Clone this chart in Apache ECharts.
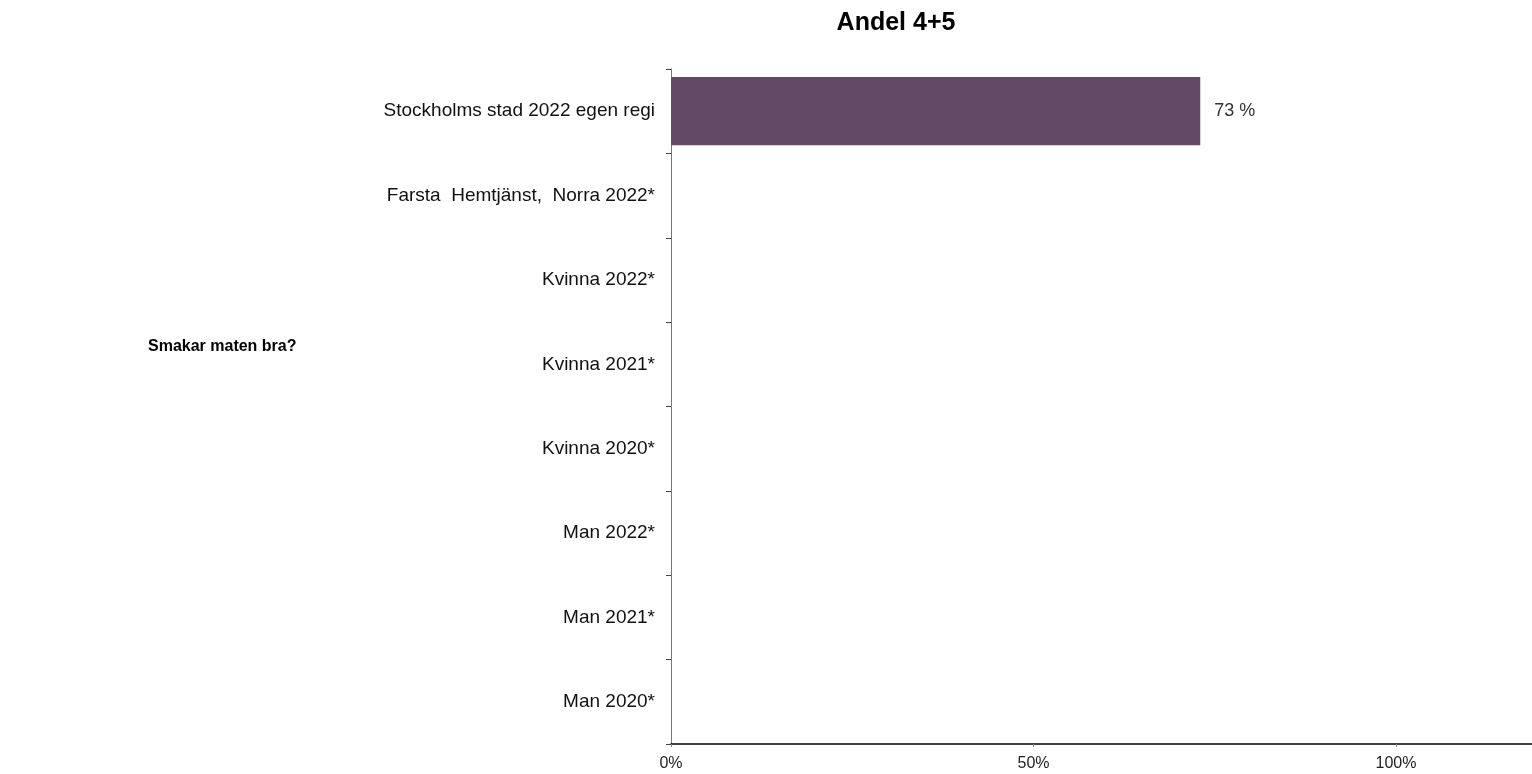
<!DOCTYPE html>
<html><head><meta charset="utf-8">
<script src="https://cdn.jsdelivr.net/npm/echarts@6/dist/echarts.min.js"></script>
<style>html,body{margin:0;padding:0;background:#fff}#c{width:1532px;height:774px}</style>
</head><body><div id="c"></div>
<script>
const categories = ["Stockholms stad 2022 egen regi","Farsta  Hemtjänst,  Norra 2022*","Kvinna 2022*","Kvinna 2021*","Kvinna 2020*","Man 2022*","Man 2021*","Man 2020*"];
const values = [73, null, null, null, null, null, null, null];
const xTicks = [0, 50, 100];
const chartTitle = "Andel 4+5";
const question = "Smakar maten bra?";

const chart = echarts.init(document.getElementById('c'));
chart.setOption({
  animation: false,
  textStyle: {fontFamily: 'Liberation Sans, Arial, sans-serif'},
  title: {text: chartTitle, left: 891, top: 6, textAlign: 'center',
    textStyle: {fontSize: 25, fontWeight: 'bold', color: '#000', fontFamily: 'Liberation Sans, Arial, sans-serif'}},
  graphic: [{type: 'text', left: 148, top: 339,
    style: {text: question, fontSize: 16, fontWeight: 'bold', fill: '#000', fontFamily: 'Liberation Sans, Arial, sans-serif'}}],
  grid: {left: 671, width: 870, top: 69, bottom: 30, containLabel: false, outerBoundsMode: 'none'},
  xAxis: {type: 'value', min: 0, max: 120, interval: 50,
    axisLine: {show: true, lineStyle: {color: '#000', width: 1.5}},
    axisTick: {show: true, length: 3, lineStyle: {color: '#888'}},
    splitLine: {show: false},
    axisLabel: {color: '#222', fontSize: 16, margin: 12,
      formatter: v => xTicks.includes(v) ? v + '%' : ''}},
  yAxis: {type: 'category', data: categories, inverse: true,
    axisLine: {show: true, lineStyle: {color: '#777', width: 1}},
    axisTick: {show: true, length: 5, lineStyle: {color: '#444'}},
    axisLabel: {color: '#111', fontSize: 19, margin: 16}},
  series: [{type: 'bar', data: values, barCategoryGap: '19%',
    itemStyle: {color: '#634966'},
    label: {show: true, position: 'right', distance: 14, fontSize: 18, color: '#333',
      formatter: p => p.value == null ? '' : p.value + ' %'}}]
});
</script></body></html>
